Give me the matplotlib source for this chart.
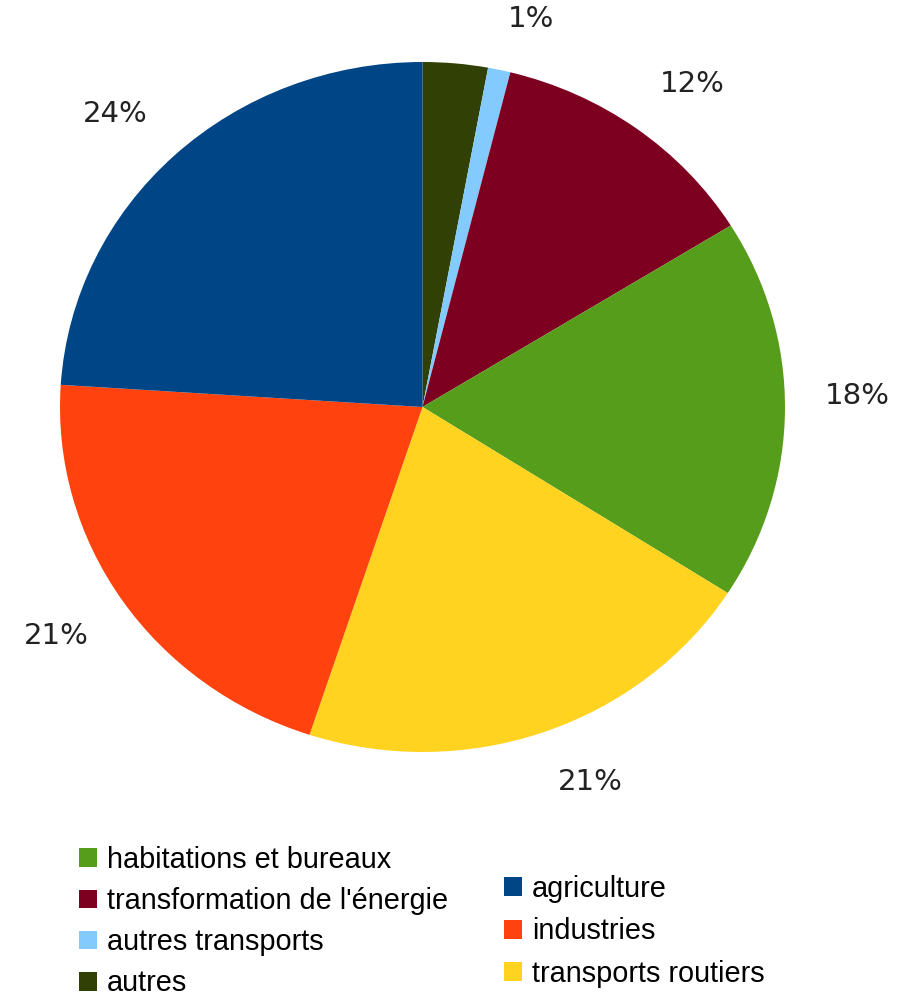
import numpy as np
import matplotlib.pyplot as plt

# shares, clockwise from 12 o'clock
categories = ['autres', 'autres transports', "transformation de l'énergie",
              'habitations et bureaux', 'transports routiers', 'industries',
              'agriculture']
values = [2.9, 1.0, 12.3, 17.9, 21.0, 21.0, 24.0]
shown_labels = ['', '1%', '12%', '18%', '21%', '21%', '24%']
colors = ['#314004', '#83CAFF', '#7E0021', '#579D1C', '#FFD320', '#FF420E',
          '#004586']

left_legend = ['habitations et bureaux', "transformation de l'énergie",
               'autres transports', 'autres']
right_legend = ['agriculture', 'industries', 'transports routiers']

fig = plt.figure(figsize=(9.14, 9.96), dpi=100)
ax = fig.add_axes([60 / 914, 1 - 752 / 996, 725 / 914, 690 / 996])

wedges, texts, autotexts = ax.pie(values, colors=colors, startangle=90,
                                  counterclock=False, autopct='%1.0f%%',
                                  textprops=dict(fontsize=21, color='#222222',
                                                 family='DejaVu Sans'))
# labels sit just outside the rim, corner pointing at the slice
r_lab = 1.11
for w, t, lab in zip(wedges, autotexts, shown_labels):
    ang = np.deg2rad((w.theta1 + w.theta2) / 2)
    c, s = np.cos(ang), np.sin(ang)
    t.set_text(lab)
    t.set_position((r_lab * c, r_lab * s))
    t.set_ha('left' if c >= 0 else 'right')
    t.set_va('bottom' if s >= -0.05 else 'top')
ax.set_aspect('auto')
ax.set_xlim(-1, 1)
ax.set_ylim(-1, 1)
ax.axis('off')

by_name = dict(zip(categories, wedges))
legend_kw = dict(frameon=False, loc='upper left', handlelength=0.62,
                 handleheight=0.62, handletextpad=0.34,
                 borderpad=0, borderaxespad=0,
                 prop=dict(family='Liberation Sans', size=20.8))
leg1 = fig.legend([by_name[c] for c in left_legend], left_legend,
                  bbox_to_anchor=(79 / 914, 1 - 846 / 996),
                  labelspacing=0.455, **legend_kw)
leg2 = fig.legend([by_name[c] for c in right_legend], right_legend,
                  bbox_to_anchor=(504 / 914, 1 - 875 / 996),
                  labelspacing=0.5, **legend_kw)
for leg in (leg1, leg2):
    for h in leg.legend_handles:
        h.set_edgecolor('none')

fig.savefig('out.png', dpi=100, facecolor='white')
